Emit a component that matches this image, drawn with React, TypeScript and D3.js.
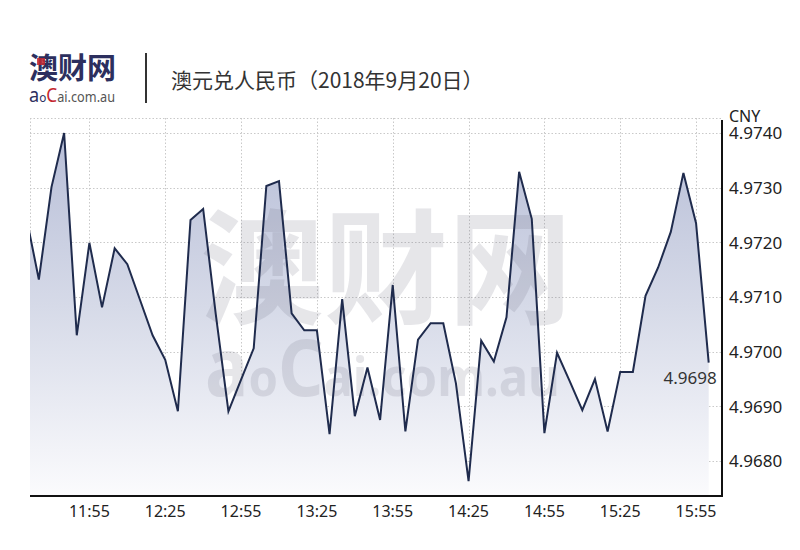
import React from "react";
import * as d3 from "d3";

const times = [
  "11:30", "11:35", "11:40", "11:45", "11:50", "11:55", "12:00", "12:05", "12:10", "12:15",
  "12:20", "12:25", "12:30", "12:35", "12:40", "12:45", "12:50", "12:55", "13:00", "13:05",
  "13:10", "13:15", "13:20", "13:25", "13:30", "13:35", "13:40", "13:45", "13:50", "13:55",
  "14:00", "14:05", "14:10", "14:15", "14:20", "14:25", "14:30", "14:35", "14:40", "14:45",
  "14:50", "14:55", "15:00", "15:05", "15:10", "15:15", "15:20", "15:25", "15:30", "15:35",
  "15:40", "15:45", "15:50", "15:55", "16:00",
];

const rates = [
  4.97247, 4.97132, 4.97301, 4.974, 4.9703, 4.97199, 4.97081, 4.97189, 4.9716, 4.97095,
  4.9703, 4.96985, 4.96891, 4.97241, 4.97261, 4.97068, 4.96891, 4.96949, 4.97006, 4.97303,
  4.97312, 4.9707, 4.97039, 4.97039, 4.96849, 4.97096, 4.96882, 4.96971, 4.96875, 4.97122,
  4.96854, 4.97022, 4.97052, 4.97052, 4.96942, 4.96763, 4.9702, 4.96982, 4.97063, 4.97329,
  4.97243, 4.96851, 4.96998, 4.96946, 4.96893, 4.9695, 4.96854, 4.96963, 4.96963, 4.97102,
  4.97154, 4.97219, 4.97327, 4.97235, 4.9698,
];

const yTicks = [4.968, 4.969, 4.97, 4.971, 4.972, 4.973, 4.974];
const xTickLabels = ["11:55", "12:25", "12:55", "13:25", "13:55", "14:25", "14:55", "15:25", "15:55"];
const title = "澳元兑人民币（2018年9月20日）";
const unit = "CNY";
const lastLabel = "4.9698";

const toMin = (s: string) => {
  const [h, m] = s.split(":").map(Number);
  return h * 60 + m;
};

const LATIN = "'Noto Sans', 'Open Sans', sans-serif";
const CJK = "'Noto Sans CJK SC', sans-serif";

export default function App() {
  const W = 800;
  const H = 550;
  const left = 30, right = 722, top = 118, bottom = 496;

  const x = d3.scaleLinear().domain([691.5, 965.26]).range([left, right]);
  const y = d3.scaleLinear().domain([4.96736, 4.974274]).range([bottom, top]);

  const data = times.map((t, i) => ({ m: toMin(t), v: rates[i] }));
  const line = d3.line<{ m: number; v: number }>().x((d) => x(d.m)).y((d) => y(d.v));
  const area = d3
    .area<{ m: number; v: number }>()
    .x((d) => x(d.m))
    .y0(bottom)
    .y1((d) => y(d.v));

  const last = data[data.length - 1];

  return (
    <svg
      width={W}
      height={H}
      style={{ position: "absolute", left: 0, top: 0, background: "#fff" }}
    >
      <defs>
        <linearGradient id="fillG" gradientUnits="userSpaceOnUse" x1="0" y1={top} x2="0" y2={bottom}>
          <stop offset="0" stopColor="#b5bcd6" />
          <stop offset="0.5" stopColor="#d6dae8" />
          <stop offset="1" stopColor="#fbfbfd" />
        </linearGradient>
        <clipPath id="plotClip">
          <rect x={left} y={top} width={right - left} height={bottom - top} />
        </clipPath>
      </defs>
      <rect x={0} y={0} width={W} height={H} fill="#fff" />

      {/* Header logo */}
      <text x={29} y={79} fontFamily={CJK} fontWeight="bold" fontSize={29} fill="#2c2f5e">
        澳财网
      </text>
      <rect x={37} y={58} width={8} height={7} fill="#c4262e" opacity={0.85} />
      <text x={29} y={102} fontFamily={LATIN} textLength={86} lengthAdjust="spacingAndGlyphs">
        <tspan fontSize={20} fill="#2c2f5e">a</tspan>
        <tspan fontSize={13} fill="#2c2f5e">o</tspan>
        <tspan fontSize={19} fill="#c4262e">C</tspan>
        <tspan fontSize={14} fill="#555">ai.com.au</tspan>
      </text>
      <line x1={146} x2={146} y1={53} y2={103} stroke="#333" strokeWidth={2} />
      <text x={171} y={88} fontFamily={CJK} fontSize={21} fill="#333">
        {title}
      </text>

      {/* Grid */}
      <g stroke="#c9c9c9" strokeWidth={1} strokeDasharray="1.5,2" fill="none">
        <line x1={left} x2={right} y1={top + 0.5} y2={top + 0.5} />
        {yTicks.map((t) => (
          <line key={"h" + t} x1={left} x2={right} y1={Math.round(y(t)) + 0.5} y2={Math.round(y(t)) + 0.5} />
        ))}
        <line x1={left + 0.5} x2={left + 0.5} y1={top} y2={bottom} />
        {xTickLabels.map((t) => (
          <line key={"v" + t} x1={Math.round(x(toMin(t))) + 0.5} x2={Math.round(x(toMin(t))) + 0.5} y1={top} y2={bottom} />
        ))}
      </g>

      {/* Area */}
      <g clipPath="url(#plotClip)">
        <path d={area(data) || ""} fill="url(#fillG)" />
      </g>

      {/* Watermark */}
      <g opacity={0.17} fill="#6e6e82">
        <text x={200} y={314} fontFamily={CJK} fontWeight="bold" fontSize={124}>
          澳财网
        </text>
        <text x={205} y={396} fontFamily={LATIN} fontWeight="bold" textLength={355} lengthAdjust="spacingAndGlyphs">
          <tspan fontSize={80}>a</tspan>
          <tspan fontSize={52}>o</tspan>
          <tspan fontSize={78}>C</tspan>
          <tspan fontSize={54}>ai.com.au</tspan>
        </text>
      </g>

      {/* Line */}
      <g clipPath="url(#plotClip)">
        <path d={line(data) || ""} fill="none" stroke="#1f2b4d" strokeWidth={2} strokeLinejoin="miter" />
      </g>

      {/* Axes */}
      <line x1={left} x2={right + 1} y1={bottom} y2={bottom} stroke="#111" strokeWidth={2} />
      <line x1={right} x2={right} y1={top + 2} y2={bottom + 1} stroke="#111" strokeWidth={2} />

      {/* Y labels */}
      <text x={729} y={122} fontFamily={LATIN} fontSize={16} fill="#222">
        {unit}
      </text>
      {yTicks.map((t) => (
        <text key={"yl" + t} x={729} y={y(t)} dy="0.38em" fontFamily={LATIN} fontSize={17} fill="#222">
          {d3.format(".4f")(t)}
        </text>
      ))}

      {/* X labels */}
      {xTickLabels.map((t) => (
        <text key={"xl" + t} x={x(toMin(t))} y={517} textAnchor="middle" fontFamily={LATIN} fontSize={16} fill="#222">
          {t}
        </text>
      ))}

      {/* Last value label */}
      <text x={x(last.m) + 8} y={384} textAnchor="end" fontFamily={LATIN} fontSize={17} fill="#333">
        {lastLabel}
      </text>
    </svg>
  );
}
